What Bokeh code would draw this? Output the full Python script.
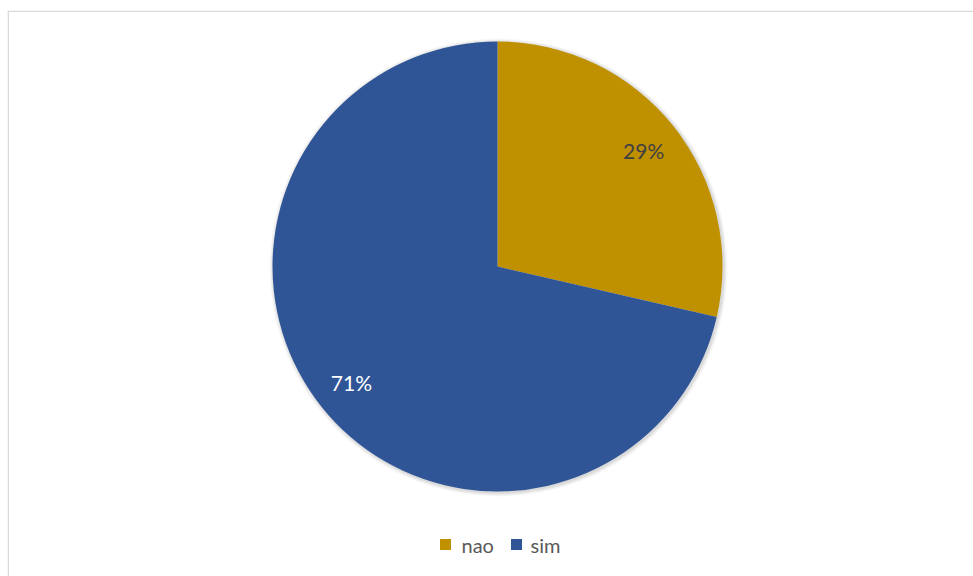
import math
from bokeh.plotting import figure
from bokeh.models import ColumnDataSource, Span
from bokeh.core.properties import value
from bokeh.embed import file_html
from bokeh.resources import INLINE

categories = ["nao", "sim"]
shares = [28.6, 71.4]
labels = ["29%", "71%"]
colors = ["#BF9000", "#2F5597"]
label_colors = ["#404040", "#FFFFFF"]

W, H = 973, 576
ML, MT = 7, 10
FW, FH = W - ML, H - MT
p = figure(width=W, height=H, x_range=(0, FW), y_range=(0, FH),
           output_backend="svg", toolbar_location=None,
           min_border_left=ML, min_border_right=0, min_border_bottom=0, min_border_top=MT)
p.axis.visible = False
p.grid.visible = False
p.outline_line_color = None
p.background_fill_color = "white"
p.border_fill_color = "white"

# chart area border (only left and top edges are visible in the window)
p.add_layout(Span(location=0.7, dimension="height", line_color="#D9D9D9", line_width=1.5))
p.add_layout(Span(location=FH - 0.7, dimension="width", line_color="#D9D9D9", line_width=1.5))

cx, cy, R = 490, 310, 225
total = sum(shares)
starts, ends, lx, ly = [], [], [], []
a = math.pi / 2
for s in shares:
    e = a - s / total * 2 * math.pi
    starts.append(a)
    ends.append(e)
    m = (a + e) / 2
    lx.append(cx + 0.83 * R * math.cos(m))
    ly.append(cy + 0.83 * R * math.sin(m))
    a = e

src = ColumnDataSource(dict(cat=categories, start=starts, end=ends, color=colors,
                            lx=lx, ly=ly, label=labels, lcolor=label_colors))

# soft shadow
for k, al in [(4, 0.05), (3, 0.07), (2, 0.09), (1, 0.12)]:
    p.circle(x=[cx + 1], y=[cy - 1], radius=R + k, fill_color="#808080",
             fill_alpha=al, line_color=None)

p.wedge(x=cx, y=cy, radius=R, start_angle="start", end_angle="end", direction="clock",
        fill_color="color", line_color="white", line_width=0, source=src)

p.text(x="lx", y="ly", text="label", text_color="lcolor", text_align="center",
       text_baseline="middle", text_font=value("Lato"), text_font_size="21px", source=src)

# legend
leg_sq_x = [438, 509]
leg_tx_x = [454, 523]
leg_y = [32, 32]
lsrc = ColumnDataSource(dict(sx=leg_sq_x, tx=leg_tx_x, y=leg_y, cat=categories, color=colors))
p.rect(x="sx", y="y", width=11, height=11, fill_color="color", line_color=None, source=lsrc)
p.text(x="tx", y="y", text="cat", text_color="#595959", text_align="left",
       text_baseline="middle", text_font=value("Lato"), text_font_size="20px", source=lsrc)

open("out.html", "w").write(file_html(p, INLINE))
